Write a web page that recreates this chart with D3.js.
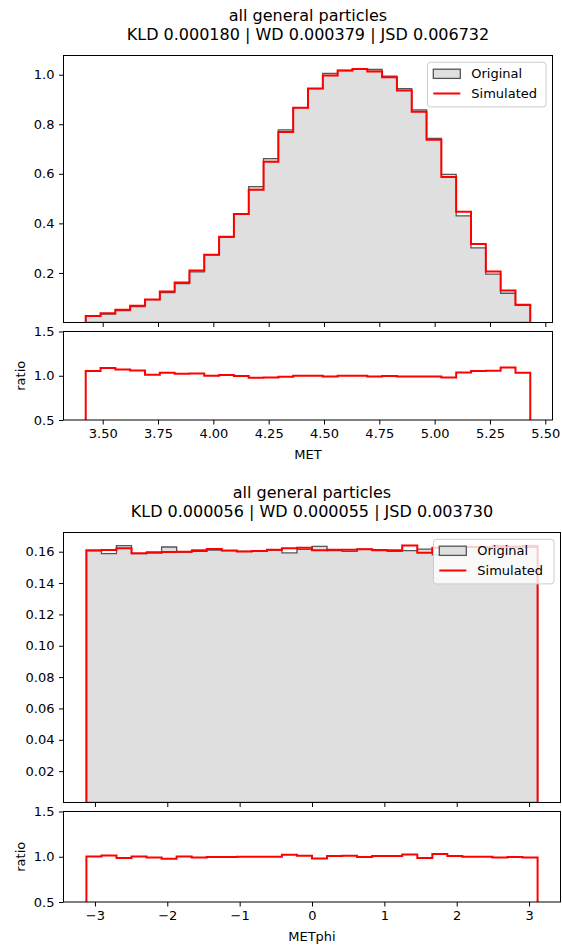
<!DOCTYPE html>
<html><head><meta charset="utf-8">
<script src="https://cdn.jsdelivr.net/npm/d3@7"></script>
<style>body{margin:0;background:#fff}svg{display:block}text{font-family:"DejaVu Sans",sans-serif;fill:#000}</style>
</head><body>
<svg id="c" width="562" height="947"></svg>
<script>
// ---------- DATA ----------
const metTitle = ["all general particles", "KLD 0.000180 | WD 0.000379 | JSD 0.006732"];
const metRange = [3.4233, 5.4321];
const metOriginal = [0.0247,0.0340,0.0476,0.0642,0.0920,0.1209,0.1574,0.2047,0.2730,0.3433,0.4393,0.5486,0.6616,0.7776,0.8670,0.9440,1.0050,1.0170,1.0226,1.0210,0.9940,0.9435,0.8580,0.7430,0.5980,0.4306,0.3010,0.1949,0.1180,0.0696];
const metSimulated = [0.026,0.037,0.051,0.068,0.093,0.125,0.161,0.210,0.273,0.346,0.4375,0.536,0.649,0.769,0.867,0.944,0.997,1.017,1.0226,1.013,0.990,0.936,0.851,0.737,0.587,0.447,0.317,0.206,0.129,0.072];
const metRatio = [1.053,1.087,1.072,1.060,1.011,1.034,1.023,1.026,1.000,1.008,0.996,0.977,0.981,0.989,1.000,1.000,0.992,1.000,1.000,0.992,0.996,0.992,0.992,0.992,0.981,1.038,1.053,1.057,1.094,1.034];
const metXTicks = [3.50,3.75,4.00,4.25,4.50,4.75,5.00,5.25,5.50];
const metYTicks = [0.2,0.4,0.6,0.8,1.0];

const phiTitle = ["all general particles", "KLD 0.000056 | WD 0.000055 | JSD 0.003730"];
const phiRange = [-3.118, 3.118];
const phiOriginal = [0.1605,0.1588,0.1639,0.1588,0.1598,0.1630,0.1598,0.1611,0.1611,0.1607,0.1602,0.1605,0.1611,0.1592,0.1615,0.1634,0.1607,0.1602,0.1617,0.1607,0.1602,0.1607,0.1617,0.1580,0.1619,0.1630,0.1630,0.1641,0.1636,0.1641];
const phiSimulated = [0.1609,0.1611,0.1622,0.1590,0.1594,0.1598,0.1600,0.1605,0.1617,0.1607,0.1602,0.1605,0.1613,0.1622,0.1626,0.1609,0.1613,0.1613,0.1615,0.1611,0.1609,0.1639,0.1594,0.1626,0.1630,0.1630,0.1630,0.1630,0.1630,0.1630];
const phiRatio = [1.003,1.015,0.985,1.003,0.993,0.978,1.003,0.993,0.996,0.996,1.000,1.000,1.000,1.022,1.011,0.981,1.007,1.011,0.996,1.007,1.007,1.026,0.985,1.030,1.007,1.000,1.000,0.993,0.996,0.993];
const phiXTicks = [-3,-2,-1,0,1,2,3];
const phiYTicks = [0.02,0.04,0.06,0.08,0.10,0.12,0.14,0.16];

const ratioTicks = [0.5,1.0,1.5];
const legendLabels = ["Original","Simulated"];

// ---------- DRAW ----------
const svg = d3.select("#c");
const FS = 13, TFS = 16;
const RED = "#ff0000", FILL = "#dfdfdf", EDGE = "#555555";
let clipId = 0;

function panel(cfg){
  const edges = d3.range(cfg.original.length + 1).map(i => cfg.range[0] + i*(cfg.range[1]-cfg.range[0])/cfg.original.length);
  const x = d3.scaleLinear().domain(cfg.xDomain).range([cfg.left, cfg.right]);
  const y = d3.scaleLinear().domain([0, cfg.yMax]).range([cfg.mainBottom, cfg.mainTop]);
  const yr = d3.scaleLinear().domain([0.5, 1.5]).range([cfg.ratioBottom, cfg.ratioTop]);

  function stepPts(vals){
    const p = [[edges[0], 0]];
    vals.forEach((v,i) => { p.push([edges[i], v]); p.push([edges[i+1], v]); });
    p.push([edges[edges.length-1], 0]);
    return p;
  }
  const g = svg.append("g");

  // title
  const t = g.append("text").attr("text-anchor","middle").style("font-size", TFS+"px");
  t.append("tspan").attr("x",(cfg.left+cfg.right)/2).attr("y",cfg.mainTop-34.5).text(cfg.title[0]);
  t.append("tspan").attr("x",(cfg.left+cfg.right)/2).attr("y",cfg.mainTop-16).text(cfg.title[1]);

  // clips
  const cm = "clip" + (clipId++), cr = "clip" + (clipId++);
  const defs = g.append("defs");
  defs.append("clipPath").attr("id",cm).append("rect").attr("x",cfg.left).attr("y",cfg.mainTop).attr("width",cfg.right-cfg.left).attr("height",cfg.mainBottom-cfg.mainTop);
  defs.append("clipPath").attr("id",cr).append("rect").attr("x",cfg.left).attr("y",cfg.ratioTop).attr("width",cfg.right-cfg.left).attr("height",cfg.ratioBottom-cfg.ratioTop);

  const line = d3.line().x(d => x(d[0])).y(d => y(d[1]));
  const lineR = d3.line().x(d => x(d[0])).y(d => yr(d[1]));

  const gm = g.append("g").attr("clip-path",`url(#${cm})`);
  gm.append("path").attr("d", line(stepPts(cfg.original)) + "Z")
    .attr("fill", FILL).attr("stroke", EDGE).attr("stroke-width", 1.3);
  gm.append("path").attr("d", line(stepPts(cfg.simulated)))
    .attr("fill","none").attr("stroke", RED).attr("stroke-width", 2).attr("stroke-linejoin","miter");

  const gr = g.append("g").attr("clip-path",`url(#${cr})`);
  gr.append("path").attr("d", lineR(stepPts(cfg.ratio)))
    .attr("fill","none").attr("stroke", RED).attr("stroke-width", 2);

  // axes
  function style(ax){
    ax.select(".domain").remove();
    ax.selectAll(".tick line").attr("stroke","#000").attr("stroke-width",1);
    ax.selectAll(".tick text").style("font-size",FS+"px").style("font-family","DejaVu Sans").attr("fill","#000");
  }
  const ay = g.append("g").attr("transform",`translate(${cfg.left},0)`)
    .call(d3.axisLeft(y).tickValues(cfg.yTicks).tickFormat(cfg.yFmt).tickSize(4.5).tickPadding(4.5).tickSizeOuter(0));
  style(ay);
  const axm = g.append("g").attr("transform",`translate(0,${cfg.mainBottom})`)
    .call(d3.axisBottom(x).tickValues(cfg.xTicks).tickFormat("").tickSize(4.5).tickSizeOuter(0));
  style(axm);
  const ayr = g.append("g").attr("transform",`translate(${cfg.left},0)`)
    .call(d3.axisLeft(yr).tickValues(ratioTicks).tickFormat(d3.format(".1f")).tickSize(4.5).tickPadding(4.5).tickSizeOuter(0));
  style(ayr);
  const axr = g.append("g").attr("transform",`translate(0,${cfg.ratioBottom})`)
    .call(d3.axisBottom(x).tickValues(cfg.xTicks).tickFormat(cfg.xFmt).tickSize(4.5).tickPadding(4.5).tickSizeOuter(0));
  style(axr);

  // spines
  g.append("rect").attr("x",cfg.left).attr("y",cfg.mainTop).attr("width",cfg.right-cfg.left).attr("height",cfg.mainBottom-cfg.mainTop)
    .attr("fill","none").attr("stroke","#000").attr("stroke-width",1);
  g.append("rect").attr("x",cfg.left).attr("y",cfg.ratioTop).attr("width",cfg.right-cfg.left).attr("height",cfg.ratioBottom-cfg.ratioTop)
    .attr("fill","none").attr("stroke","#000").attr("stroke-width",1);

  // labels
  g.append("text").attr("x",(cfg.left+cfg.right)/2).attr("y",cfg.ratioBottom+39).attr("text-anchor","middle")
    .style("font-size",FS+"px").text(cfg.xLabel);
  g.append("text").attr("transform",`translate(24.8,${(cfg.ratioTop+cfg.ratioBottom)/2}) rotate(-90)`)
    .attr("text-anchor","middle").style("font-size",FS+"px").text("ratio");

  // legend
  const lw = cfg.legendW, lh = 44.6;
  const lx = cfg.right - 6.5 - lw, ly = cfg.mainTop + 6.8;
  const lg = g.append("g");
  lg.append("rect").attr("x",lx).attr("y",ly).attr("width",lw).attr("height",lh).attr("rx",3)
    .attr("fill","#fff").attr("fill-opacity",0.8).attr("stroke","#cccccc").attr("stroke-width",1);
  const hx = lx + 5.8, hl = 27;
  lg.append("rect").attr("x",hx).attr("y",ly+6.9).attr("width",hl).attr("height",9.2)
    .attr("fill",FILL).attr("stroke",EDGE).attr("stroke-width",1.3);
  lg.append("line").attr("x1",hx).attr("x2",hx+hl).attr("y1",ly+31.2).attr("y2",ly+31.2)
    .attr("stroke",RED).attr("stroke-width",2);
  lg.append("text").attr("x",hx+hl+11).attr("y",ly+11.5+4.6).style("font-size",FS+"px").text(legendLabels[0]);
  lg.append("text").attr("x",hx+hl+11).attr("y",ly+31.2+4.6).style("font-size",FS+"px").text(legendLabels[1]);
}

panel({
  title: metTitle, original: metOriginal, simulated: metSimulated, ratio: metRatio, range: metRange,
  xDomain: [3.3229, 5.5325], yMax: 1.0775,
  left: 63.5, right: 552.5, mainTop: 55.5, mainBottom: 322.5, ratioTop: 331.5, ratioBottom: 420,
  xTicks: metXTicks, yTicks: metYTicks, yFmt: d3.format(".1f"), xFmt: d3.format(".2f"),
  xLabel: "MET", legendW: 118.5
});
panel({
  title: phiTitle, original: phiOriginal, simulated: phiSimulated, ratio: phiRatio, range: phiRange,
  xDomain: [-3.4345, 3.4345], yMax: 0.17225,
  left: 63.5, right: 560.5, mainTop: 532.5, mainBottom: 802.5, ratioTop: 811.5, ratioBottom: 902,
  xTicks: phiXTicks, yTicks: phiYTicks, yFmt: d3.format(".2f"), xFmt: d => d < 0 ? "\u2212" + Math.abs(d) : String(d),
  xLabel: "METphi", legendW: 120.5
});
</script>
</body></html>
